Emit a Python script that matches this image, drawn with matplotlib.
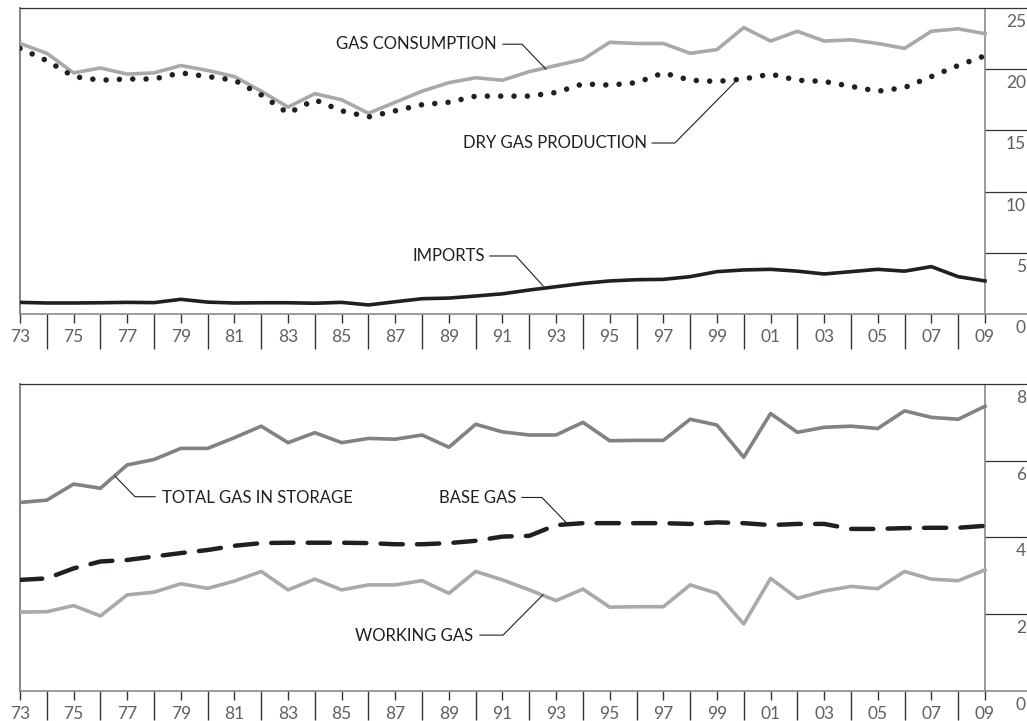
import numpy as np
import matplotlib
matplotlib.use('Agg')
import matplotlib.pyplot as plt
import matplotlib.transforms as mtransforms

plt.rcParams['font.family'] = ['Lato', 'DejaVu Sans']

years = list(range(1973, 2010))

# trillion cubic feet
gas_consumption = [22.1, 21.3, 19.7, 20.1, 19.6, 19.7, 20.3, 19.9, 19.4, 18.2,
                   16.9, 18.0, 17.5, 16.4, 17.3, 18.2, 18.9, 19.3, 19.1, 19.8,
                   20.3, 20.8, 22.2, 22.1, 22.1, 21.3, 21.6, 23.4, 22.3, 23.1,
                   22.3, 22.4, 22.1, 21.7, 23.1, 23.3, 22.9]
dry_gas_production = [21.7, 20.7, 19.4, 19.1, 19.2, 19.2, 19.7, 19.4, 19.1, 17.9,
                      16.4, 17.5, 16.6, 16.1, 16.6, 17.1, 17.3, 17.8, 17.8, 17.8,
                      18.1, 18.8, 18.7, 18.9, 19.7, 19.1, 19.0, 19.2, 19.6, 19.1,
                      19.0, 18.6, 18.2, 18.5, 19.4, 20.3, 21.1]
imports = [0.95, 0.9, 0.9, 0.92, 0.95, 0.93, 1.2, 0.97, 0.9, 0.92,
           0.92, 0.88, 0.95, 0.74, 1.0, 1.25, 1.3, 1.47, 1.65, 1.96,
           2.23, 2.5, 2.7, 2.8, 2.83, 3.05, 3.46, 3.6, 3.65, 3.5,
           3.27, 3.46, 3.65, 3.5, 3.87, 3.05, 2.7]

total_storage = [4.91, 4.97, 5.39, 5.28, 5.89, 6.03, 6.32, 6.32, 6.60, 6.90,
                 6.47, 6.73, 6.47, 6.58, 6.56, 6.67, 6.35, 6.95, 6.75, 6.67,
                 6.67, 7.00, 6.52, 6.53, 6.53, 7.08, 6.93, 6.09, 7.23, 6.74,
                 6.87, 6.90, 6.84, 7.30, 7.13, 7.08, 7.42]
base_gas = [2.89, 2.93, 3.19, 3.37, 3.41, 3.50, 3.59, 3.67, 3.78, 3.85,
            3.86, 3.86, 3.86, 3.85, 3.82, 3.82, 3.85, 3.91, 4.02, 4.04,
            4.32, 4.37, 4.37, 4.37, 4.37, 4.35, 4.39, 4.37, 4.32, 4.35,
            4.35, 4.22, 4.22, 4.24, 4.25, 4.25, 4.30]
working_gas = [2.05, 2.06, 2.22, 1.95, 2.50, 2.57, 2.79, 2.67, 2.86, 3.11,
               2.63, 2.91, 2.63, 2.76, 2.76, 2.87, 2.54, 3.11, 2.89, 2.63,
               2.35, 2.65, 2.18, 2.19, 2.19, 2.76, 2.54, 1.74, 2.93, 2.41,
               2.60, 2.72, 2.66, 3.11, 2.91, 2.87, 3.15]

top_yticks = [0, 5, 10, 15, 20, 25]
bottom_yticks = [0, 2, 4, 6, 8]

light = '#a7a9ac'
mid = '#808285'
ink = '#231f20'
axis_gray = '#8a8a8a'
label_gray = '#5f6063'

W, H = 1027, 721
fig = plt.figure(figsize=(W / 100, H / 100), dpi=100)

x0, x_end = 1973, 2009
px_per_year = (985 - 20) / 36
xmax = x0 + (W - 20) / px_per_year

ax1 = fig.add_axes([20 / W, 1 - 314 / H, (W - 20) / W, (314 - 8) / H])
ax2 = fig.add_axes([20 / W, 1 - 690.7 / H, (W - 20) / W, (690.7 - 384) / H])


def style(ax, yticks, long_tick):
    ax.set_xlim(x0, xmax)
    ax.set_ylim(yticks[0], yticks[-1])
    ax.spines['right'].set_visible(False)
    ax.spines['top'].set_color('#333333')
    ax.spines['top'].set_linewidth(0.9)
    ax.spines['bottom'].set_color(axis_gray)
    ax.spines['bottom'].set_linewidth(1.2)
    ax.spines['left'].set_color(axis_gray)
    ax.spines['left'].set_linewidth(1.5)
    ax.set_yticks([])
    ax.set_xticks(years[::2])
    ax.set_xticklabels(['%02d' % (y % 100) for y in years[::2]])
    ax.set_xticks(years[1::2], minor=True)
    ax.tick_params(axis='x', which='major', length=6.5, width=1.0,
                   color='#333333', pad=4.5, labelsize=12.5, labelcolor=label_gray)
    ax.tick_params(axis='x', which='minor', length=long_tick, width=1.0, color='#333333')
    ax.axvline(x_end, color=axis_gray, lw=1.2, zorder=1)
    trans = mtransforms.blended_transform_factory(ax.transAxes, ax.transData)
    ax.hlines(yticks[1:-1], x_end, xmax, color='#333333', lw=0.9)
    off = mtransforms.offset_copy(trans, fig=fig, x=-1, y=-6, units='dots')
    for v in yticks:
        ax.text(1.0, v, str(v), transform=off, ha='right', va='top',
                fontsize=12.5, color=label_gray, clip_on=False)


style(ax1, top_yticks, 25)
style(ax2, bottom_yticks, 21)

ax1.plot(years, gas_consumption, color=light, lw=2.6, zorder=3)
ax1.plot(years, dry_gas_production, color=ink, lw=4.0,
         linestyle=(0, (0.001, 2.4)), dash_capstyle='round', zorder=4)
ax1.plot(years, imports, color=ink, lw=2.6, zorder=3)

ax2.plot(years, total_storage, color=mid, lw=2.6, zorder=3)
ax2.plot(years, base_gas, color=ink, lw=3.2,
         linestyle=(0, (5.0, 3.2)), dash_capstyle='round', zorder=3)
ax2.plot(years, working_gas, color=light, lw=2.6, zorder=3)


def leader(ax, text, tx, ty, pts, ha):
    ax.text(tx, ty, text, ha=ha, va='center', fontsize=12, color=ink)
    xs, ys = zip(*pts)
    ax.plot(xs, ys, color=ink, lw=0.8, zorder=5)


leader(ax1, 'GAS CONSUMPTION', 1990.79, 22.02,
       [(1991.02, 22.04), (1991.73, 22.04), (1992.62, 20.0)], 'right')
leader(ax1, 'DRY GAS PRODUCTION', 1996.39, 13.97,
       [(1996.58, 13.97), (1997.43, 13.97), (1999.75, 19.12)], 'right')
leader(ax1, 'IMPORTS', 1990.35, 4.74,
       [(1990.53, 4.74), (1991.50, 4.74), (1992.51, 2.31)], 'right')

leader(ax2, 'TOTAL GAS IN STORAGE', 1978.30, 5.03,
       [(1978.04, 5.06), (1977.29, 5.06), (1976.54, 5.60)], 'left')
leader(ax2, 'BASE GAS', 1991.5, 5.03,
       [(1991.73, 5.04), (1992.47, 5.04), (1993.37, 4.39)], 'right')
leader(ax2, 'WORKING GAS', 1989.9, 1.43,
       [(1990.16, 1.45), (1991.02, 1.45), (1992.51, 2.50)], 'right')

fig.savefig('out.png', dpi=100)
